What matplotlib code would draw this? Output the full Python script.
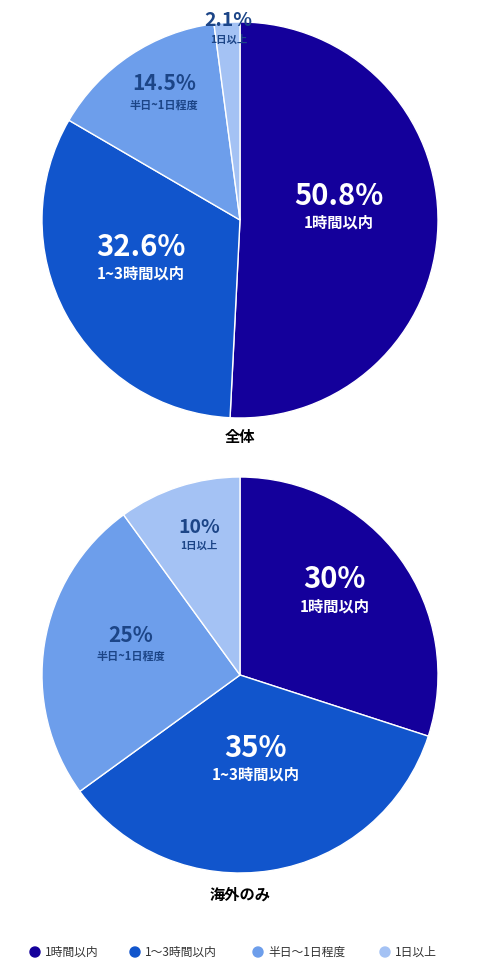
import matplotlib
matplotlib.use("Agg")
import matplotlib.pyplot as plt
import numpy as np

plt.rcParams['font.family'] = ['Noto Sans CJK JP', 'DejaVu Sans']

categories = ["1時間以内", "1~3時間以内", "半日~1日程度", "1日以上"]
legend_labels = ["1時間以内", "1～3時間以内", "半日～1日程度", "1日以上"]
all_values = [50.8, 32.6, 14.5, 2.1]
all_labels = ["50.8%", "32.6%", "14.5%", "2.1%"]
overseas_values = [30, 35, 25, 10]
overseas_labels = ["30%", "35%", "25%", "10%"]
titles = ["全体", "海外のみ"]

colors = ["#14009b", "#1155cc", "#6d9eeb", "#a4c2f4"]
txt_colors = ["white", "white", "#1c4587", "#1c4587"]
pct_sizes = [21, 21, 15, 14]
lab_sizes = [11, 11, 8, 7.5]

W, H = 480, 971
fig = plt.figure(figsize=(4.8, 9.71), dpi=100)

def draw(cy, values, pcts, radii, title, ty):
    r = 198
    ax = fig.add_axes([(240 - r) / W, (H - cy - r) / H, 2 * r / W, 2 * r / H])
    ax.pie(values, colors=colors, startangle=90, counterclock=False,
           wedgeprops=dict(linewidth=1, edgecolor="white"))
    ax.set_xlim(-1, 1); ax.set_ylim(-1, 1); ax.set_aspect('equal'); ax.axis('off')
    total = sum(values); cum = 0
    for i, v in enumerate(values):
        mid = np.deg2rad(90 - 360 * (cum + v / 2) / total)
        cum += v
        x, y = radii[i] * np.cos(mid), radii[i] * np.sin(mid)
        ax.text(x, y + 0.06, pcts[i], ha='center', va='bottom', color=txt_colors[i],
                fontsize=pct_sizes[i], fontweight='bold')
        ax.text(x, y + 0.04, categories[i], ha='center', va='top', color=txt_colors[i],
                fontsize=lab_sizes[i], fontweight='bold')
    fig.text(0.5, 1 - ty / H, title, ha='center', va='center', fontsize=11, fontweight='bold')

draw(220, all_values, all_labels, [0.5, 0.57, 0.69, 0.9], titles[0], 437)
draw(675, overseas_values, overseas_labels, [0.59, 0.51, 0.56, 0.67], titles[1], 895)

xs = [35, 135, 258, 385]
for i, lab in enumerate(legend_labels):
    fig.patches.append(matplotlib.patches.Ellipse((xs[i] / W, 1 - 952 / H), 10 / W, 10 / H,
                       transform=fig.transFigure, color=colors[i]))
    fig.text((xs[i] + 10) / W, 1 - 952 / H, lab, ha='left', va='center', fontsize=8.5, color='#333333')

fig.savefig("out.png", dpi=100)
